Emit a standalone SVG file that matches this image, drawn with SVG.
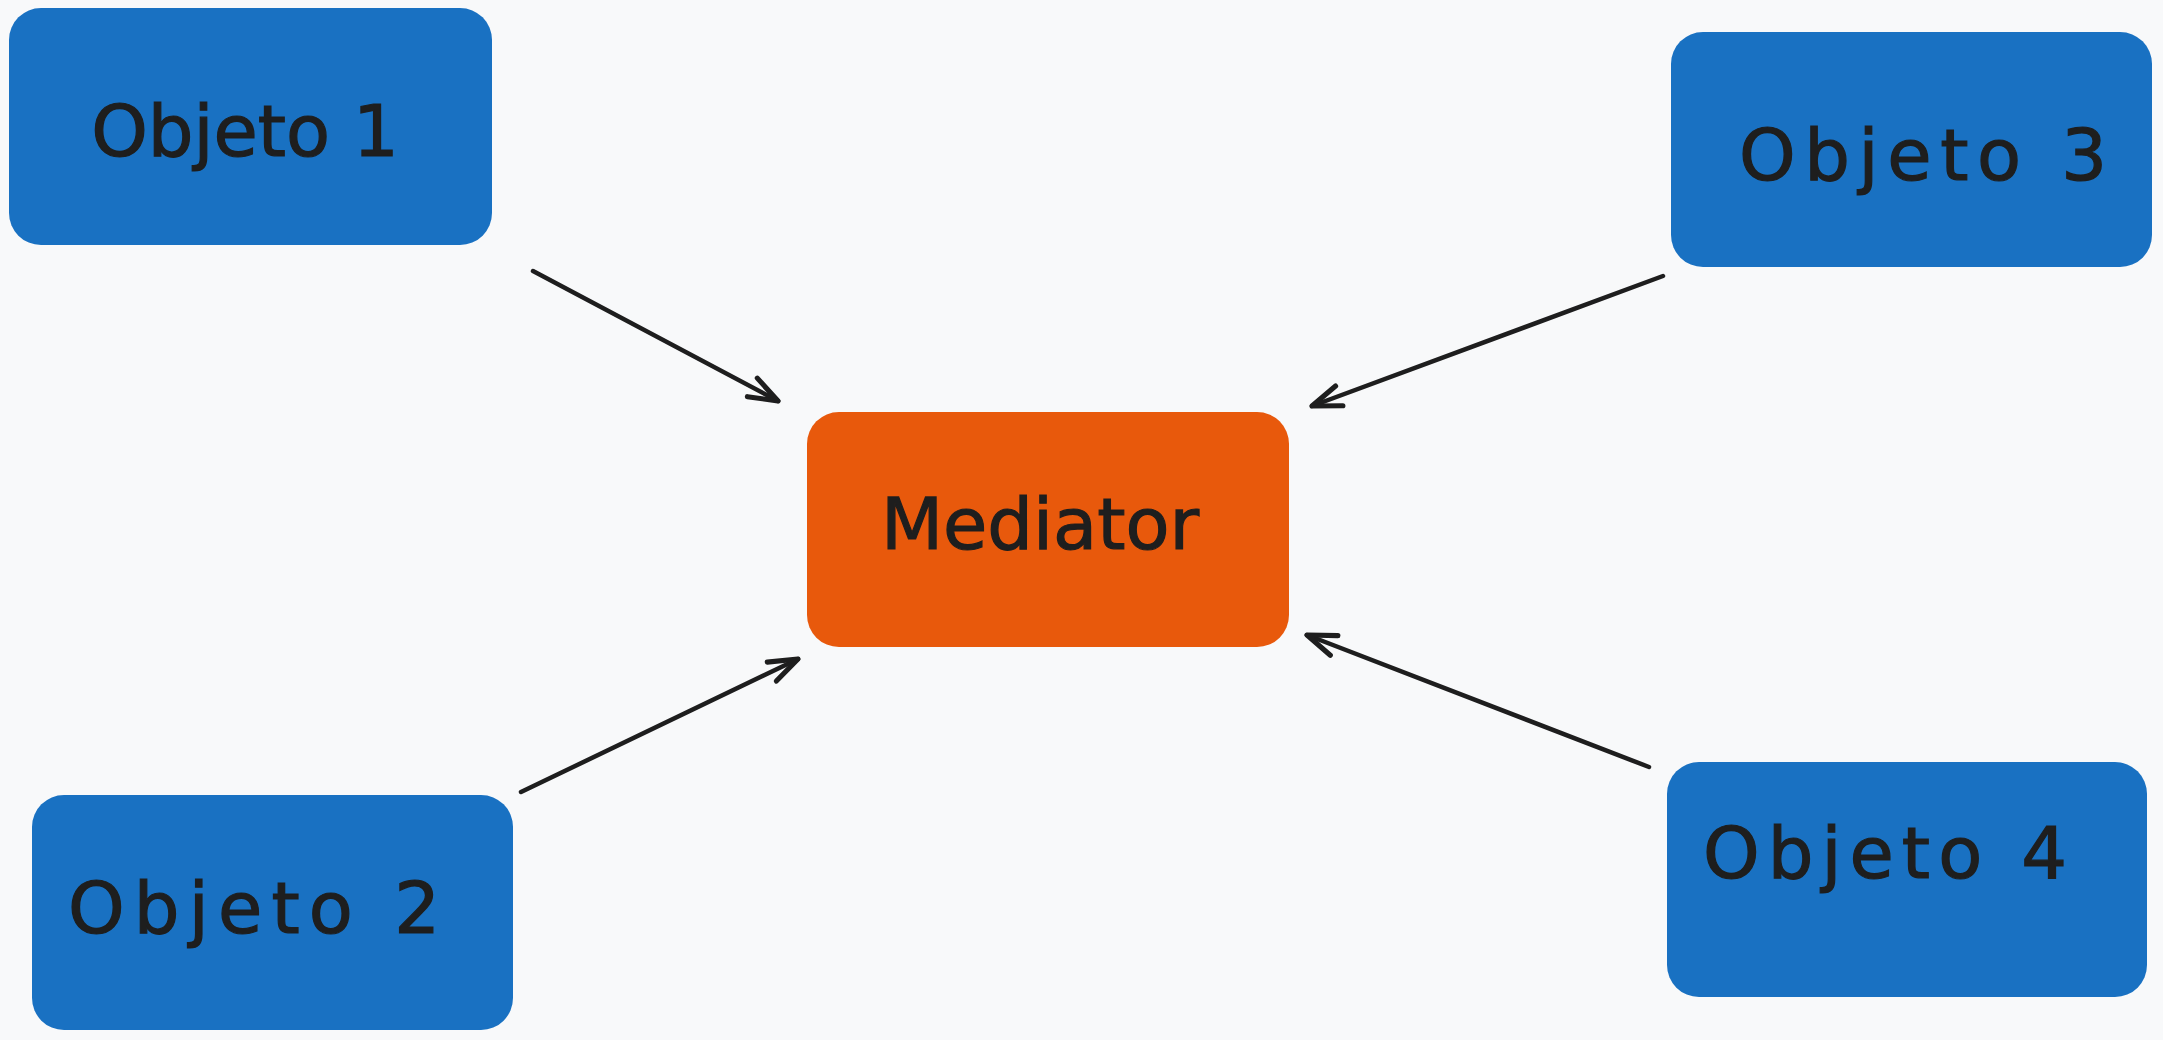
<svg xmlns="http://www.w3.org/2000/svg" width="2163" height="1040" viewBox="0 0 2163 1040">
  <style>
    .obj { fill: #1971c2; }
    .med { fill: #e8590c; }
    .lbl { font-family: "DejaVu Sans", "Liberation Sans", sans-serif; font-size: 72px; fill: #1e1e1e; stroke: #1e1e1e; stroke-width: 1.2; text-anchor: middle; }
    .conn { fill: none; stroke: #1e1e1e; stroke-width: 4.5; stroke-linecap: round; stroke-linejoin: round; }
  </style>
  <defs>
    <marker id="head" markerUnits="userSpaceOnUse" markerWidth="40" markerHeight="40" viewBox="-30 -15 35 30" refX="0" refY="0" orient="auto" overflow="visible">
      <path d="M -25.4 -9.2 L 0 0 L -25.4 9.2" fill="none" stroke="#1e1e1e" stroke-width="4.5" stroke-linecap="round" stroke-linejoin="round"/>
    </marker>
  </defs>
  <rect width="2163" height="1040" fill="#f8f9fa"/>

  <g id="objeto1">
    <rect class="obj" x="9" y="8" width="483" height="237" rx="32" ry="32"/>
    <text class="lbl" x="245" y="156">Objeto 1</text>
  </g>

  <g id="objeto3">
    <rect class="obj" x="1671" y="32" width="481" height="235" rx="32" ry="32"/>
    <text class="lbl" x="1923" y="180" textLength="368">Objeto 3</text>
  </g>

  <g id="mediator">
    <rect class="med" x="807" y="412" width="482" height="235" rx="32" ry="32"/>
    <text class="lbl" x="1040" y="549">Mediator</text>
  </g>

  <g id="objeto2">
    <rect class="obj" x="32" y="795" width="481" height="235" rx="32" ry="32"/>
    <text class="lbl" x="254" y="933" textLength="372">Objeto 2</text>
  </g>

  <g id="objeto4">
    <rect class="obj" x="1667" y="762" width="480" height="235" rx="32" ry="32"/>
    <text class="lbl" x="1885" y="878" textLength="364">Objeto 4</text>
  </g>

  <g id="connectors">
    <path class="conn" d="M 533 271 L 778 401" marker-end="url(#head)"/>
    <path class="conn" d="M 521 792 L 798 659" marker-end="url(#head)"/>
    <path class="conn" d="M 1663 276 L 1312 406" marker-end="url(#head)"/>
    <path class="conn" d="M 1649 767 L 1307 635" marker-end="url(#head)"/>
  </g>
</svg>
